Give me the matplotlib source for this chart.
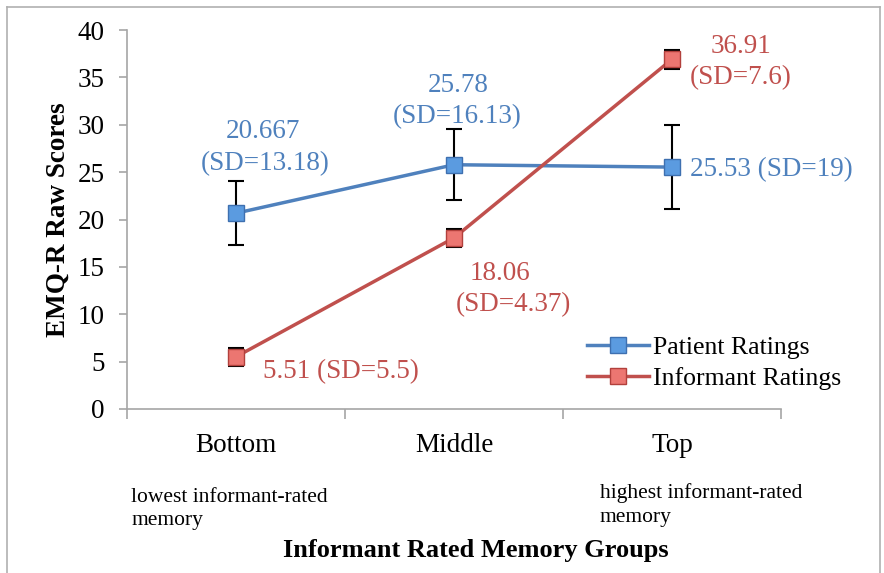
import matplotlib
matplotlib.use("Agg")
import matplotlib.pyplot as plt
from matplotlib.lines import Line2D

categories = ["Bottom", "Middle", "Top"]
patient = [20.667, 25.78, 25.53]
patient_err = [3.4, 3.75, 4.4]
informant = [5.51, 18.06, 36.91]
informant_err = [0.95, 0.98, 1.02]
patient_labels = [["20.667", "(SD=13.18)"], ["25.78", "(SD=16.13)"], ["25.53 (SD=19)"]]
informant_labels = [["5.51 (SD=5.5)"], ["18.06", "(SD=4.37)"], ["36.91", "(SD=7.6)"]]
yticks = [0, 5, 10, 15, 20, 25, 30, 35, 40]

BLUE = "#4F81BD"
RED = "#C0504D"
GRAY = "#A6A6A6"
FONT = "Liberation Serif"
FS = 19.5

W, H = 884, 573
fig = plt.figure(figsize=(W / 100, H / 100), dpi=100)
plt.rcParams["font.family"] = [FONT, "DejaVu Serif"]

# figure frame
for (x0, y0, x1, y1) in [(7, 7, 880, 7), (7, 7, 7, 580), (880, 7, 880, 580)]:
    fig.add_artist(Line2D([x0 / W, x1 / W], [1 - y0 / H, 1 - y1 / H],
                          color="#B0B0B0", lw=1.2, transform=fig.transFigure))

ax = fig.add_axes([127 / W, 1 - 409 / H, 654 / W, 379 / H])
x = list(range(len(categories)))

ax.errorbar(x, patient, yerr=patient_err, fmt="none", ecolor="black",
            elinewidth=1.5, capsize=5.5, capthick=1.5, zorder=2)
ax.errorbar(x, informant, yerr=informant_err, fmt="none", ecolor="black",
            elinewidth=1.5, capsize=5.5, capthick=1.5, zorder=2)
ax.plot(x, patient, color=BLUE, lw=2.5, marker="s", markersize=11,
        markerfacecolor="#5B9BE0", markeredgecolor="#3E70B0", markeredgewidth=1,
        label="Patient Ratings", zorder=3)
ax.plot(x, informant, color=RED, lw=2.5, marker="s", markersize=11,
        markerfacecolor="#EC7671", markeredgecolor="#B2403C", markeredgewidth=1,
        label="Informant Ratings", zorder=3)

ax.set_xlim(-0.5, 2.5)
ax.set_ylim(0, 40)
ax.set_yticks(yticks)
ax.set_xticks(x)
ax.set_xticklabels(categories)
ax.set_xticks([-0.5, 0.5, 1.5, 2.5], minor=True)
ax.tick_params(axis="x", which="major", length=0, labelsize=FS, pad=17)
ax.tick_params(axis="x", which="minor", length=7, width=1.2, color=GRAY, direction="out")
ax.tick_params(axis="y", length=6, width=1.2, color=GRAY, labelsize=FS, pad=10)
for s in ["top", "right"]:
    ax.spines[s].set_visible(False)
for s in ["left", "bottom"]:
    ax.spines[s].set_color(GRAY)
    ax.spines[s].set_linewidth(1.2)
ax.patch.set_alpha(0)

ax.set_ylabel("EMQ-R Raw Scores", fontsize=FS, fontweight="bold", labelpad=5)

# data labels (offsets in pixels from each point)
p_offsets = [[(27, 82), (29, 50)], [(4, 79), (3, 48)], [(18, -3)]]
p_ha = ["center", "center", "left"]
for i, (lines, offs) in enumerate(zip(patient_labels, p_offsets)):
    for t, o in zip(lines, offs):
        ax.annotate(t, (x[i], patient[i]), xytext=o, textcoords="offset pixels",
                    ha=p_ha[i], va="center", color=BLUE, fontsize=FS)
i_offsets = [[(27, -15)], [(46, -36), (59, -67)], [(69, 13), (69, -18)]]
i_ha = ["left", "center", "center"]
for i, (lines, offs) in enumerate(zip(informant_labels, i_offsets)):
    for t, o in zip(lines, offs):
        ax.annotate(t, (x[i], informant[i]), xytext=o, textcoords="offset pixels",
                    ha=i_ha[i], va="center", color=RED, fontsize=FS)

# side notes
fig.text(131 / W, 1 - 509 / H, "lowest informant-rated\nmemory", ha="left", va="center",
         fontsize=15.5, linespacing=1.3)
fig.text(600 / W, 1 - 505 / H, "highest informant-rated\nmemory", ha="left", va="center",
         fontsize=15.5, linespacing=1.3)
fig.text(476 / W, 1 - 551 / H, "Informant Rated Memory Groups", ha="center", va="center",
         fontsize=19, fontweight="bold")

fig.legend(loc="center left", bbox_to_anchor=(587 / W, 1 - 363 / H), frameon=False,
           fontsize=18.5, handlelength=2.4, handletextpad=0.15, labelspacing=0.3,
           borderpad=0, borderaxespad=0)

fig.savefig("out.png", dpi=100)
